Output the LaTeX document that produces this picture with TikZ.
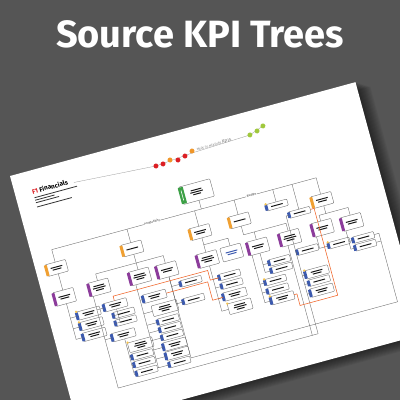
\documentclass[tikz,border=0pt]{standalone}
\usepackage{fontspec}
\setmainfont{Fira Sans}

\definecolor{bggrey}{RGB}{85,85,85}
\definecolor{tagorange}{RGB}{240,160,50}
\definecolor{tagpurple}{RGB}{140,60,155}
\definecolor{tagblue}{RGB}{60,90,175}
\definecolor{taggreen}{RGB}{60,160,70}
\definecolor{dotred}{RGB}{220,30,35}
\definecolor{dotorange}{RGB}{240,150,40}
\definecolor{dotgreen}{RGB}{160,200,60}
\definecolor{dotyellow}{RGB}{245,195,80}
\definecolor{linkorange}{RGB}{240,100,40}

% coloured tag on the left side of a box
\newcommand{\kpitag}[2]{\fill[#2, rounded corners=0.4pt] ([xshift=-1.2pt,yshift=-0.6pt]#1.north west) rectangle ([xshift=1.8pt,yshift=0.6pt]#1.south west);}
\newcommand{\stardot}[1]{\fill[dotyellow] ([xshift=0.4pt,yshift=0.2pt]#1.north west) circle (1.3pt);}
% greeked lines of text
\newcommand{\kbarsi}{\rule{12pt}{1pt}}
\newcommand{\kbarsii}{\rule{12pt}{1pt}\\\rule{9pt}{1pt}}
\newcommand{\kbarsiii}{\rule{11pt}{1pt}\\\rule{13pt}{1pt}\\\rule{8pt}{1pt}}

\begin{document}
\begin{tikzpicture}[x=1pt, y=-1pt,
  wire/.style={draw=black!60, line width=0.35pt},
  olink/.style={draw=linkorange, line width=0.55pt},
  kpinode/.style={draw=black!60, line width=0.35pt, fill=white, rounded corners=0.8pt, inner sep=0pt, align=center, font=\fontsize{1.6pt}{2.2pt}\selectfont, text=black!90},
  orbox/.style={kpinode, minimum width=21pt, minimum height=12pt},
  pubox/.style={kpinode, minimum width=21pt, minimum height=14pt},
  blbox/.style={kpinode, minimum width=22pt, minimum height=6.5pt},
  blboxii/.style={kpinode, minimum width=24pt, minimum height=8.5pt},
  hdbox/.style={kpinode, minimum width=25pt, minimum height=10pt},
  buslabel/.style={fill=white, inner sep=0.6pt, font=\fontsize{3pt}{3pt}\selectfont, text=black!80}]

\useasboundingbox (0,0) rectangle (400,400);
\clip (0,0) rectangle (400,400);
\fill[bggrey] (0,0) rectangle (400,400);

\node[anchor=base, text=white, font=\fontsize{38pt}{40pt}\selectfont\bfseries] (title) at (200,47) {Source KPI Trees};

\begin{scope}[transform canvas={shift={(10,176)}, rotate=15.2}]
  % shadow and sheet
  \foreach \s in {1,...,12}
    \fill[black, opacity=0.05] (2+0.9*\s,0.7*\s) rectangle (358+1.1*\s,261+0.9*\s);
  \fill[white] (0,0) rectangle (358,261);

  % heading
  \node[anchor=base west, inner sep=0pt, font=\fontsize{6.5pt}{7pt}\selectfont\bfseries] (heading) at (17,23.5) {\textcolor{dotred}{F1}\ Financials};
  \foreach \v/\l in {27/44, 29.6/20, 32.2/24, 36.6/36}
    \fill[black!80] (18,\v) rectangle ++(\l,0.8);
  \draw[black!40, line width=0.3pt] (60,23) -- (143.5,28.6) -- (182.2,25.5) -- (242.3,23.3) -- (257.2,18);
  \foreach \u/\v/\c in {143.5/28.6/dotred, 150.8/28.5/dotred, 158.6/26.5/dotorange, 166.3/28.6/dotred, 174.1/26.6/dotred, 182.2/23.6/dotorange, 242.3/23.3/dotgreen, 250.2/21.3/dotgreen, 257.2/18/dotgreen}
    \fill[\c] (\u,\v) circle (2.5);
  \node[anchor=base west, inner sep=0pt, text=black!50, font=\fontsize{3pt}{3pt}\selectfont] (madeto) at (187,24.6) {MADE TO MEASURE \fontsize{5pt}{5pt}\selectfont KPIs};

  % root and second level
  \node[kpinode, minimum width=32pt, minimum height=18pt] (root) at (176,64) {\kbarsiii};
  \node[orbox] (mkt) at (21,101) {\kbarsii};
  \node[orbox] (prof) at (99,102) {\kbarsi};
  \node[orbox] (cost) at (169,104) {\kbarsii};
  \node[orbox] (spend) at (210,103) {\kbarsi};
  \node[orbox] (cash) at (295,105) {\kbarsii};
  \node[blbox] (fcst) at (250,98) {\kbarsi};
  \node[blbox] (varc) at (270,111) {\kbarsi};

  % third level
  \node[pubox] (rev) at (21,131) {\kbarsii};
  \node[pubox] (gm) at (57,131) {\kbarsiii};
  \node[pubox] (opx) at (99,131) {\kbarsiii};
  \node[pubox] (ovh) at (127,132) {\kbarsii};
  \node[pubox] (dir) at (169,132) {\kbarsiii};
  \node[kpinode, minimum width=21pt, minimum height=14pt, text=tagblue] (note) at (194,132) {\kbarsii};
  \node[pubox] (cap) at (221,133) {\kbarsii};
  \node[pubox] (inv) at (254,133) {\kbarsiii};
  \node[pubox] (wc) at (288,132) {\kbarsii};
  \node[pubox] (debt) at (318,134) {\kbarsii};

  % lists
  \node[blboxii] (r1) at (40,153) {\kbarsii};
  \node[blboxii] (r2) at (40,164) {\kbarsii};
  \node[blboxii] (r3) at (40,175) {\kbarsii};
  \node[blboxii] (g1) at (68,152) {\kbarsii};
  \node[blbox] (g2) at (74,162) {\kbarsi};
  \node[blbox] (g3) at (74,170) {\kbarsi};
  \node[blboxii] (g4) at (68,183) {\kbarsii};
  \node[hdbox] (h1) at (82,197) {\kbarsiii};
  \node[blbox] (g5) at (81,207) {\kbarsi};
  \node[blbox] (g6) at (81,215) {\kbarsi};
  \node[blbox] (g7) at (81,224) {\kbarsi};
  \node[blboxii] (o1) at (108,154) {\kbarsii};
  \node[hdbox, minimum width=26pt, minimum height=11pt] (h2) at (115,168) {\kbarsiii};
  \node[blbox] (o2) at (115,180) {\kbarsi};
  \node[blbox] (o3) at (115,188) {\kbarsi};
  \node[blbox] (o4) at (115,196) {\kbarsi};
  \node[blboxii] (o5) at (115,205.5) {\kbarsii};
  \node[blboxii] (o6) at (115,215) {\kbarsii};
  \node[blbox] (o7) at (115,224) {\kbarsi};
  \node[blbox] (v1) at (147,149) {\kbarsi};
  \node[blbox] (v2) at (145,167) {\kbarsi};
  \node[blbox] (d1) at (186,153) {\kbarsi};
  \node[blbox] (d2) at (186,162) {\kbarsi};
  \node[blboxii] (d3) at (186,173) {\kbarsii};
  \node[kpinode, minimum width=24pt, minimum height=11pt] (d4) at (188,186) {\kbarsiii};
  \node[blbox] (k1) at (238,152) {\kbarsi};
  \node[blbox] (k2) at (238,160) {\kbarsi};
  \node[blbox] (c1) at (229,170) {\kbarsi};
  \node[blbox] (c2) at (229,179) {\kbarsi};
  \node[blboxii] (c3) at (231,189) {\kbarsii};
  \node[blbox] (i1) at (268,149) {\kbarsi};
  \node[blboxii] (vr1) at (271,173) {\kbarsii};
  \node[blbox] (vr2) at (271,182) {\kbarsi};
  \node[blboxii] (vr3) at (271,192) {\kbarsii};
  \node[blbox] (w1) at (300,151) {\kbarsi};
  \node[blbox] (e1) at (325,152) {\kbarsi};
  \node[blbox] (e2) at (325,160) {\kbarsi};

  % tags
  \fill[taggreen, rounded corners=0.5pt] ([xshift=-1.2pt,yshift=-0.8pt]root.north west) rectangle ([xshift=4pt,yshift=0.8pt]root.south west);
  \draw[white, line width=0.6pt] ([xshift=1.4pt,yshift=-4pt]root.north west) -- ([xshift=1.4pt,yshift=4pt]root.south west);
  \foreach \n in {mkt,prof,cost,spend,cash} {\kpitag{\n}{tagorange}}
  \foreach \n in {rev,gm,opx,ovh,dir,cap,inv,wc,debt} {\kpitag{\n}{tagpurple}}
  \foreach \n in {fcst,varc,r1,r2,r3,g1,g2,g3,g4,g5,g6,g7,o1,o2,o3,o4,o5,o6,o7,v1,v2,d1,d2,d3,k1,k2,c1,c2,c3,i1,vr1,vr2,vr3,w1,e1,e2} {\kpitag{\n}{tagblue}}
  \foreach \n in {fcst,r1,r2,h1,c1,c3,vr1,w1,d4} {\stardot{\n}}

  % connectors
  \coordinate (bus) at (0,82);
  \coordinate (jp) at (99,117);
  \coordinate (js) at (210,118);
  \coordinate (jw) at (295,119);
  \coordinate (botA) at (341,223);
  \coordinate (botB) at (256,233);
  \draw[wire] (root.south) -- (root.south |- bus);
  \draw[wire] (mkt.north) |- (cash.north |- bus) -- (cash.north);
  \foreach \n in {prof,cost,spend,fcst,varc}
    \draw[wire] (\n.north) -- (\n.north |- bus);
  \draw[wire] (mkt.south) -- (rev.north);
  \draw[wire] (prof.south) -- (jp) -- (opx.north);
  \draw[wire] (gm.north) |- (jp) -| (ovh.north);
  \draw[wire] (cost.south) -- (dir.north);
  \draw[wire] (cost.south) ++(0,7) -| (note.north);
  \draw[wire] (spend.south) -- (js);
  \draw[wire] (cap.north) |- (js) -| (inv.north);
  \draw[wire] (cash.south) -- (jw);
  \draw[wire] (wc.north) |- (jw) -| (debt.north);

  \draw[wire] (rev.south) |- (r3.west);
  \foreach \n in {r1,r2} \draw[wire] (rev.south |- \n.west) -- (\n.west);
  \draw[wire] ([xshift=2.5pt]gm.south west) |- (botB);
  \foreach \n in {g1,g4} \draw[wire] ([xshift=2.5pt]gm.south west |- \n.west) -- (\n.west);
  \draw[wire] (g1.south) |- (g3.west);
  \draw[wire] (g1.south |- g2.west) -- (g2.west);
  \draw[wire] (g4.south) |- (g7.west);
  \foreach \n in {h1,g5,g6} \draw[wire] (g4.south |- \n.west) -- (\n.west);
  \draw[wire] ([xshift=-6pt]opx.south) |- (o7.west);
  \foreach \n in {o1,h2,o2,o3,o4,o5,o6} \draw[wire] ([xshift=-6pt]opx.south |- \n.west) -- (\n.west);
  \draw[wire] (ovh.south) |- (v2.west);
  \draw[wire] (ovh.south |- v1.west) -- (v1.west);
  \draw[wire] (ovh.south) |- (botA) |- (e1.east);
  \draw[wire] (botA |- e2.east) -- (e2.east);
  \draw[wire] (dir.south) |- (d4.west);
  \foreach \n in {d1,d2,d3} \draw[wire] (dir.south |- \n.west) -- (\n.west);
  \draw[wire] (cap.south) |- (k2.west);
  \draw[wire] (cap.south |- k1.west) -- (k1.west);
  \draw[wire] ([xshift=2.5pt]cap.south west) |- (c3.west);
  \foreach \n in {c1,c2} \draw[wire] ([xshift=2.5pt]cap.south west |- \n.west) -- (\n.west);
  \draw[wire] ([xshift=-4pt]inv.south) -- ([xshift=-4pt]inv.south |- botB);
  \draw[wire] (varc.west) -| (botB);
  \foreach \n in {i1,vr1,vr2,vr3} \draw[wire] (botB |- \n.west) -- (\n.west);
  \draw[wire] ([xshift=2.5pt]wc.south west) |- (w1.west);
  \draw[wire] ([xshift=2.5pt]debt.south west) |- (e2.west);
  \draw[wire] ([xshift=2.5pt]debt.south west |- e1.west) -- (e1.west);

  % orange links
  \coordinate (ob1) at (166,143);
  \coordinate (ob2) at (163,165);
  \coordinate (ob3) at (246,201);
  \coordinate (ob4) at (285,201);
  \draw[olink] (g1.north) |- (ob1) |- (d1.west);
  \draw[olink] (o1.east) -| (ob2) |- (d3.west);
  \draw[olink] (varc.east) -| (ob4) -- (ob3) |- (c3.east);

  % branch labels
  \node[buslabel] (lprof) at (125,82) {Profitability};
  \node[buslabel] (lbud) at (228,82) {Budget};
\end{scope}
\end{tikzpicture}
\end{document}
